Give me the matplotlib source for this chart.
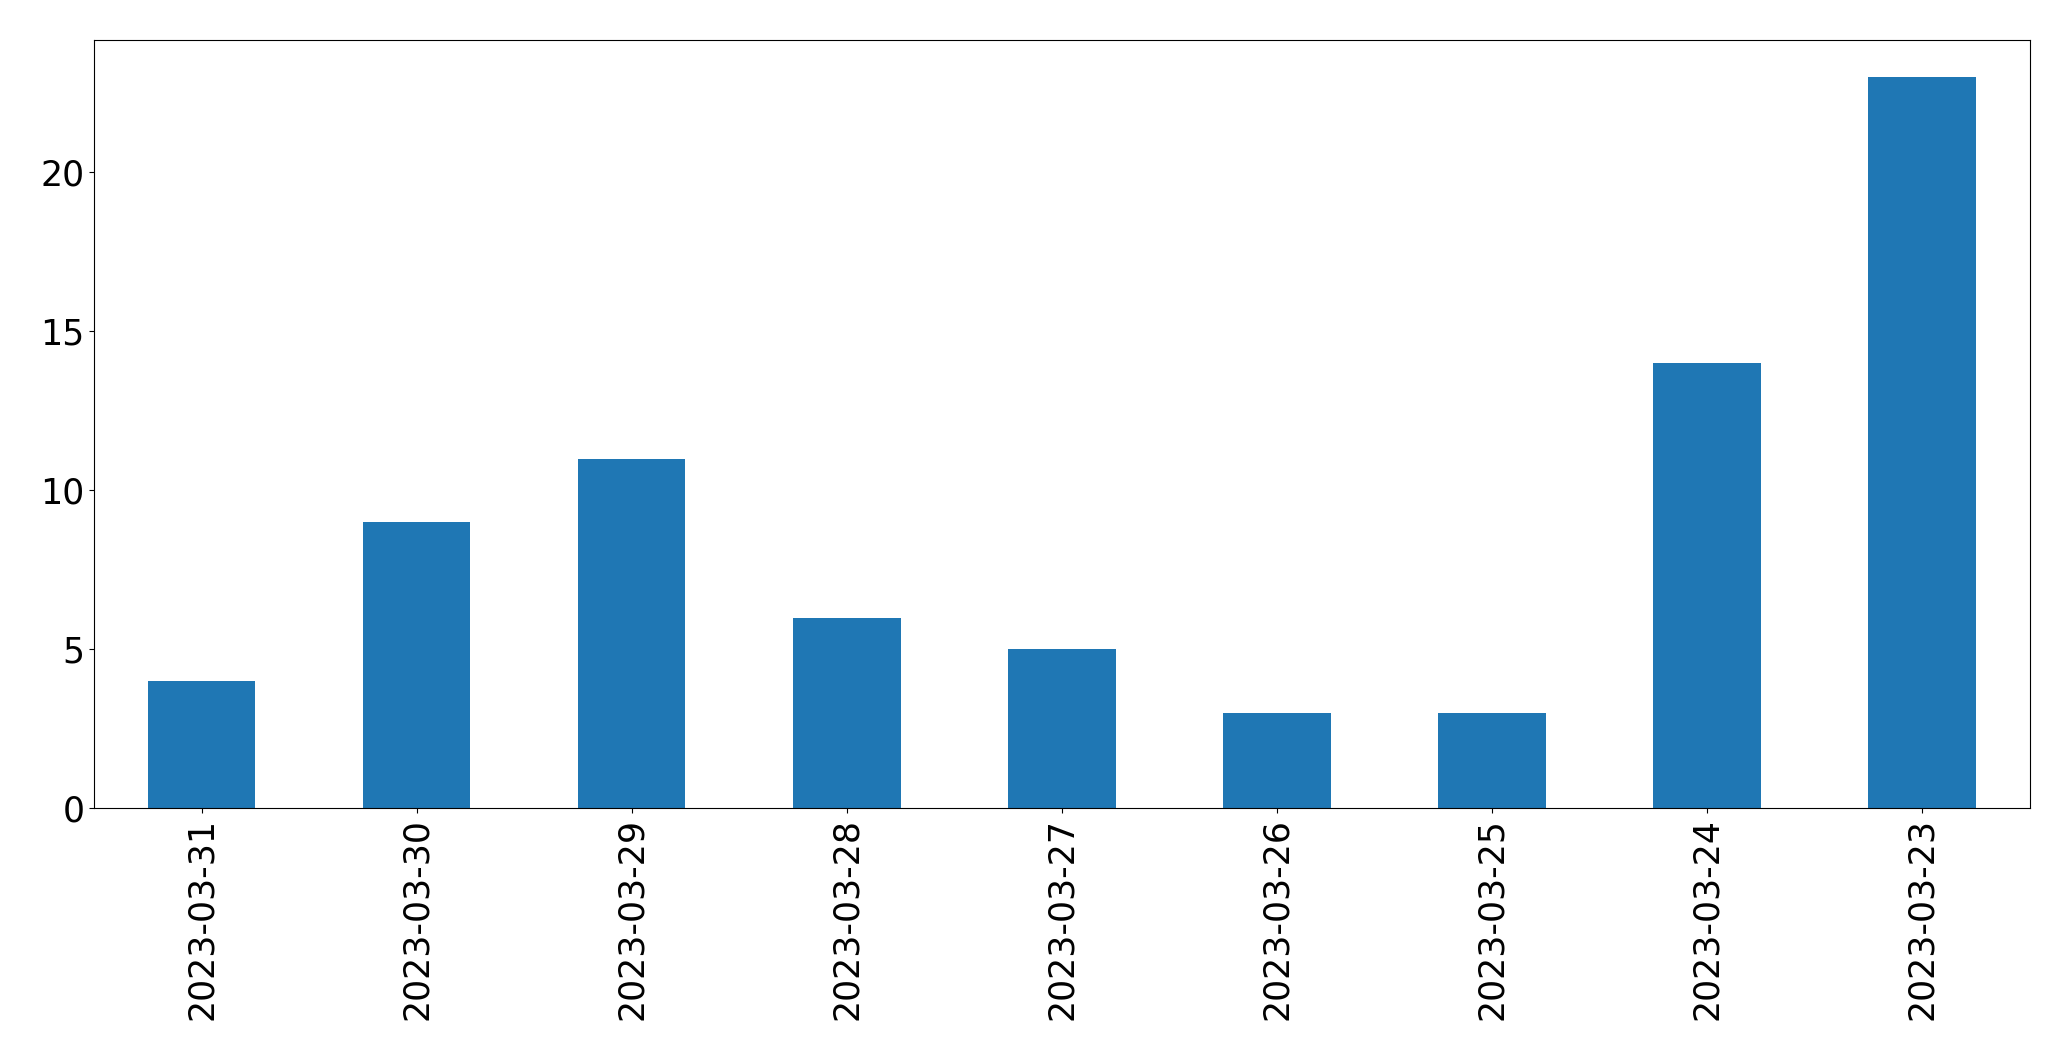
import matplotlib
matplotlib.use("Agg")
import matplotlib.pyplot as plt

# datos
dates = ["2023-03-31", "2023-03-30", "2023-03-29", "2023-03-28", "2023-03-27",
         "2023-03-26", "2023-03-25", "2023-03-24", "2023-03-23"]
counts = [4, 9, 11, 6, 5, 3, 3, 14, 23]

fig, ax = plt.subplots(figsize=(20.71, 10.61), dpi=100)
pos = range(len(dates))
ax.bar(pos, counts, width=0.5, color="#1f77b4")
ax.set_xticks(list(pos))
ax.set_xticklabels(dates, rotation=90, fontsize=25)
ax.tick_params(axis="y", labelsize=25)
ax.set_xlim(-0.5, len(dates) - 0.5)
ax.set_ylim(0, max(counts) * 1.05)
plt.subplots_adjust(left=0.0454, right=0.980, top=0.962, bottom=0.238)
plt.savefig("out.png", dpi=100)
